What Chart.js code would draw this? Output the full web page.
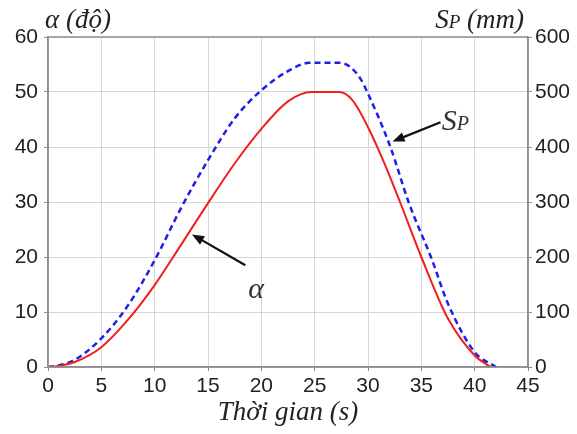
<!DOCTYPE html>
<html>
<head>
<meta charset="utf-8">
<script src="https://cdn.jsdelivr.net/npm/chart.js@4"></script>
<style>
	html, body { margin: 0; padding: 0; background: #fff; }
	#wrap { width: 577px; height: 434px; }
</style>
</head>
<body>
<div id="wrap"><canvas id="myChart"></canvas></div>
<script>
// góc alpha (độ) theo thời gian
var alphaTime = [0, 1, 2.5, 5, 7.5, 10, 12.5, 15, 17.5, 20, 22.5, 24.7, 27.3, 28.5, 30, 31.5, 33, 35, 37.5, 40, 41.5]
var alphaDeg = [0, 0.2, 0.9, 3.6, 8.6, 14.9, 22.3, 29.8, 37, 43.3, 48.3, 50, 50, 48.6, 43.6, 37.2, 30, 20, 8.8, 2.1, 0]

// hành trình S_P (mm) theo thời gian
var spTime = [0, 1, 2.5, 5, 7.5, 10, 12.5, 15, 17.5, 20, 22.5, 24.5, 27.3, 28.3, 29.3, 30, 32.1, 33.8, 36, 37.5, 40, 42]
var spMm = [0, 3, 13, 52, 112, 194, 290, 376, 452, 503, 538, 553, 553, 546, 524, 497, 400, 300, 195, 115, 27, 0]

var xTicks = [0, 5, 10, 15, 20, 25, 30, 35, 40, 45]
var alphaTicks = [0, 10, 20, 30, 40, 50, 60]
var spTicks = [0, 100, 200, 300, 400, 500, 600]

var tickFont = { family: 'Liberation Sans, Arial, sans-serif', size: 21 }
var serif = 'Liberation Serif, Times New Roman, serif'

var pts = (xs, ys) => xs.map((x, i) => ({ x: x, y: ys[i] }))

// mũi tên chú thích, toạ độ theo đơn vị dữ liệu
var notes = [
	{ axis: 'y', from: [18.5, 18.5], to: [13.5, 24.1], label: [19.5, 14] },
	{ axis: 'y1', from: [36.8, 445], to: [32.3, 410], label: [38.2, 450] }
]

function drawSP (ctx, x, y, big, small, suffix, align) {
	ctx.font = 'italic ' + big + 'px ' + serif
	var wS = ctx.measureText('S').width
	ctx.font = 'italic ' + small + 'px ' + serif
	var wP = ctx.measureText('P').width
	var wSuf = 0
	if (suffix) {
		ctx.font = 'italic ' + big + 'px ' + serif
		wSuf = ctx.measureText(suffix).width
	}
	var total = wS + wP + wSuf
	var x0 = align === 'right' ? x - total : align === 'center' ? x - total / 2 : x
	ctx.textAlign = 'left'
	ctx.textBaseline = 'alphabetic'
	ctx.font = 'italic ' + big + 'px ' + serif
	ctx.fillText('S', x0, y)
	ctx.font = 'italic ' + small + 'px ' + serif
	ctx.fillText('P', x0 + wS, y)
	if (suffix) {
		ctx.font = 'italic ' + big + 'px ' + serif
		ctx.fillText(suffix, x0 + wS + wP, y)
	}
}

var extras = {
	id: 'extras',
	afterDraw (chart) {
		var ctx = chart.ctx
		var a = chart.chartArea
		var sx = chart.scales.x
		ctx.save()
		// khung
		ctx.strokeStyle = '#8f8f8f'
		ctx.lineWidth = 1.5
		ctx.strokeRect(a.left, a.top, a.right - a.left, a.bottom - a.top)

		// tiêu đề trục
		ctx.fillStyle = '#222'
		ctx.textBaseline = 'alphabetic'
		ctx.textAlign = 'left'
		ctx.font = 'italic 27px ' + serif
		ctx.fillText('α (độ)', a.left - 3, a.top - 9)
		drawSP(ctx, a.right - 4, a.top - 9, 27, 19, ' (mm)', 'right')

		// mũi tên
		notes.forEach(n => {
			var sy = chart.scales[n.axis]
			var x1 = sx.getPixelForValue(n.from[0])
			var y1 = sy.getPixelForValue(n.from[1])
			var x2 = sx.getPixelForValue(n.to[0])
			var y2 = sy.getPixelForValue(n.to[1])
			var ang = Math.atan2(y2 - y1, x2 - x1)
			var hl = 13
			ctx.strokeStyle = '#111'
			ctx.fillStyle = '#111'
			ctx.lineWidth = 2.2
			ctx.beginPath()
			ctx.moveTo(x1, y1)
			ctx.lineTo(x2 - Math.cos(ang) * hl * 0.8, y2 - Math.sin(ang) * hl * 0.8)
			ctx.stroke()
			ctx.beginPath()
			ctx.moveTo(x2, y2)
			ctx.lineTo(x2 - hl * Math.cos(ang - 0.38), y2 - hl * Math.sin(ang - 0.38))
			ctx.lineTo(x2 - hl * Math.cos(ang + 0.38), y2 - hl * Math.sin(ang + 0.38))
			ctx.closePath()
			ctx.fill()
			var lx = sx.getPixelForValue(n.label[0])
			var ly = sy.getPixelForValue(n.label[1])
			ctx.fillStyle = '#333'
			if (n.axis === 'y') {
				ctx.font = 'italic 30px ' + serif
				ctx.textAlign = 'center'
				ctx.textBaseline = 'middle'
				ctx.fillText('α', lx, ly)
			} else {
				drawSP(ctx, lx, ly + 10, 30, 20, '', 'center')
			}
		})
		ctx.restore()
	}
}

var ctx = document.getElementById('myChart').getContext('2d')
var myChart = new Chart(ctx, {
	type: 'line',
	data: {
		datasets: [{
			label: 'α',
			data: pts(alphaTime, alphaDeg),
			yAxisID: 'y',
			borderColor: '#f01e1e',
			borderWidth: 2,
			pointRadius: 0,
			cubicInterpolationMode: 'monotone',
			fill: false
		}, {
			label: 'S_P',
			data: pts(spTime, spMm),
			yAxisID: 'y1',
			borderColor: '#1f1fe6',
			borderWidth: 2.5,
			borderDash: [6, 4],
			pointRadius: 0,
			cubicInterpolationMode: 'monotone',
			fill: false
		}]
	},
	options: {
		responsive: true,
		maintainAspectRatio: false,
		animation: false,
		layout: { padding: { top: 37, left: 0, right: 0, bottom: 5 } },
		plugins: {
			legend: { display: false },
			tooltip: { enabled: false }
		},
		scales: {
			x: {
				type: 'linear',
				min: 0,
				max: 45,
				afterBuildTicks: s => { s.ticks = xTicks.map(v => ({ value: v })) },
				grid: { color: '#d6d6d6', lineWidth: 1, tickLength: 4, tickColor: '#8f8f8f' },
				border: { color: '#8f8f8f', width: 1.5 },
				ticks: { font: tickFont, color: '#222', padding: 3, maxRotation: 0 },
				title: {
					display: true,
					text: 'Thời gian (s)',
					font: { family: serif, size: 27, style: 'italic' },
					color: '#222',
					padding: { top: 4, bottom: 0 }
				},
				afterFit: s => { s.height = 62 }
			},
			y: {
				position: 'left',
				min: 0,
				max: 60,
				afterBuildTicks: s => { s.ticks = alphaTicks.map(v => ({ value: v })) },
				grid: { color: '#d6d6d6', lineWidth: 1, tickLength: 4, tickColor: '#8f8f8f' },
				border: { color: '#8f8f8f', width: 1.5 },
				ticks: { font: tickFont, color: '#222', padding: 6 },
				afterFit: s => { s.width = 48 }
			},
			y1: {
				position: 'right',
				min: 0,
				max: 600,
				afterBuildTicks: s => { s.ticks = spTicks.map(v => ({ value: v })) },
				grid: { drawOnChartArea: false, tickLength: 4, color: '#8f8f8f' },
				border: { color: '#8f8f8f', width: 1.5 },
				ticks: { font: tickFont, color: '#222', padding: 3 },
				afterFit: s => { s.width = 49 }
			}
		}
	},
	plugins: [extras]
})
</script>
</body>
</html>
